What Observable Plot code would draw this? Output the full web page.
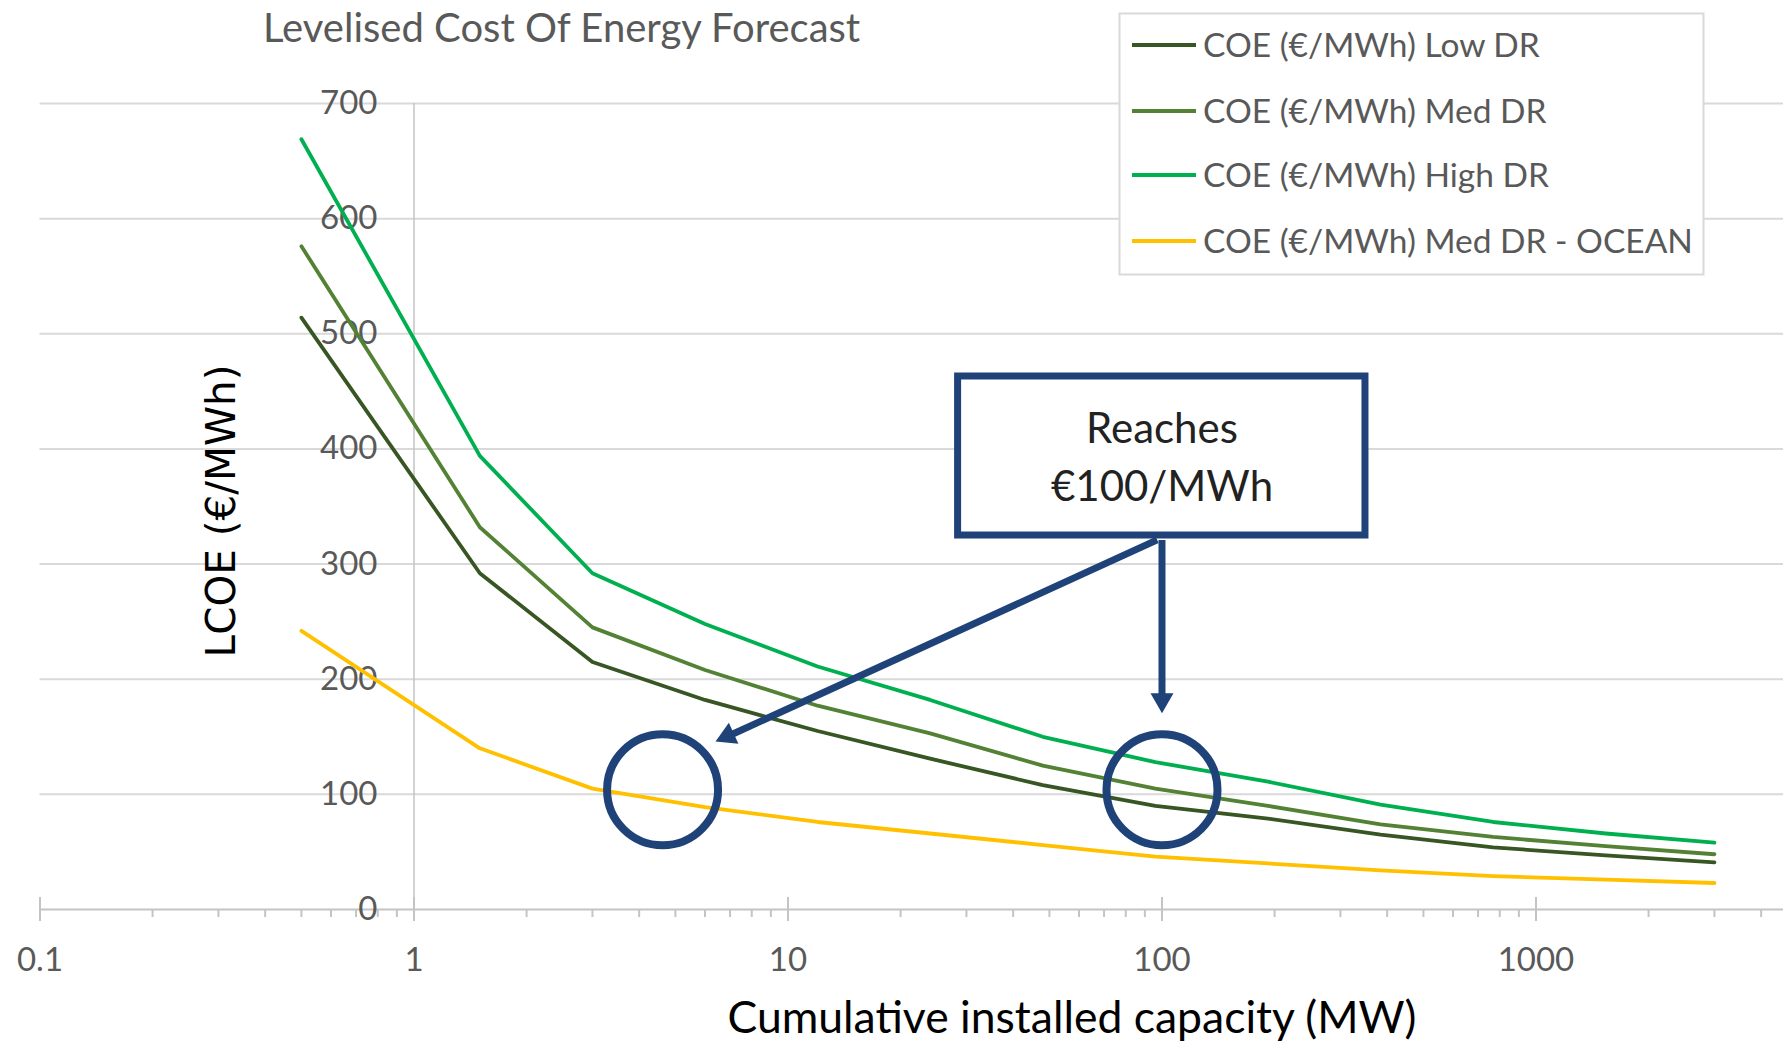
<!DOCTYPE html>
<html><head><meta charset="utf-8">
<script src="https://cdn.jsdelivr.net/npm/d3@7"></script>
<script src="https://cdn.jsdelivr.net/npm/@observablehq/plot@0.6"></script>
<style>
body{margin:0;background:#fff;overflow:hidden}
#wrap{position:relative;width:1783px;height:1041px}
#wrap > svg{position:absolute;left:0;top:0}
</style></head><body><div id="wrap"></div>
<script>
// ---- data ----
const capacity = [0.5, 1.5, 3, 6, 12, 24, 48, 96, 192, 384, 768, 1536, 3000];
const lowDR   = [514, 292, 215, 182, 155, 131, 108, 90, 79, 65, 54, 47, 41];
const medDR   = [576, 332, 245, 208, 177, 153, 125, 105, 90, 74, 63, 55, 48];
const highDR  = [669, 394, 292, 248, 211, 182, 150, 128, 111, 91, 76, 66, 58];
const oceanDR = [242, 140, 105, 89, 76, 66, 56, 46, 40, 34, 29, 26, 23];
const seriesNames = ["COE (€/MWh) Low DR", "COE (€/MWh) Med DR", "COE (€/MWh) High DR", "COE (€/MWh) Med DR - OCEAN"];
const seriesColors = ["#375623", "#548235", "#00B050", "#FFC000"];
const yTicks = [0, 100, 200, 300, 400, 500, 600, 700];
const xMajorTicks = [0.1, 1, 10, 100, 1000];
const xMinorTicks = [0.2,0.3,0.4,0.5,0.6,0.7,0.8,0.9, 2,3,4,5,6,7,8,9, 20,30,40,50,60,70,80,90, 200,300,400,500,600,700,800,900, 2000,3000,4000];
const xAxisMax = 4590;
const chartTitle = "Levelised Cost Of Energy Forecast";
const xTitle = "Cumulative installed capacity (MW)";
const yTitle = "LCOE (€/MWh)";
// ---- annotation (data units) ----
const calloutLines = ["Reaches", "€100/MWh"];
const calloutLineY = [416.6, 366.8];
const calloutX = [100, 100];
const boxX = [28.5, 350];
const boxY = [324.8, 462.9];
const circleX = [4.62, 100];
const circleY = [104, 104];
const shaftX1 = [97.1, 100];
const shaftY1 = [321, 321];
const shaftX2 = [7.0, 100];
const shaftY2 = [151.3, 185];
const headX = [6.40, 100];
const headY = [145.9, 170.5];

const seriesValues = [lowDR, medDR, highDR, oceanDR];
const rows = seriesNames.flatMap((s, k) => capacity.map((c, i) => ({capacity: c, lcoe: seriesValues[k][i], series: s})));
const annColor = "#1f4279";

const chart = Plot.plot({
  width: 1783, height: 1041,
  marginLeft: 39.5, marginRight: 0, marginTop: 103, marginBottom: 132,
  x: {type: "log", domain: [0.1, xAxisMax]},
  y: {domain: [0, 700]},
  color: {domain: seriesNames, range: seriesColors},
  style: {fontFamily: "Lato, sans-serif", background: "white", overflow: "visible"},
  marks: [
    Plot.ruleY(yTicks.filter(d => d > 0), {stroke: "#d9d9d9", strokeWidth: 2}),
    Plot.ruleY([0], {stroke: "#c4c4c4", strokeWidth: 2}),
    Plot.ruleX([1], {y1: 0, y2: 700, stroke: "#c4c4c4", strokeWidth: 1.5}),
    Plot.axisX({ticks: xMinorTicks, tickSize: 8, tickFormat: () => "", stroke: "#c4c4c4", strokeWidth: 2, label: null}),
    Plot.axisX({ticks: xMajorTicks, tickSize: 24, dy: -12, tickFormat: () => "", stroke: "#c4c4c4", strokeWidth: 2, label: null}),
    Plot.axisX({ticks: xMajorTicks, tickSize: 0, tickPadding: 38, tickFormat: d => String(d), fontSize: 33, fill: "#595959", label: null}),
    Plot.axisY({ticks: yTicks, anchor: "left", tickSize: 0, tickPadding: 0, dx: 337.5, tickFormat: d => String(d), fontSize: 33, fill: "#595959", label: null}),
    Plot.line(rows, {x: "capacity", y: "lcoe", stroke: "series", z: "series", strokeWidth: 3.8}),
    // callout arrows
    Plot.link(shaftX1, {x1: shaftX1, y1: shaftY1, x2: shaftX2, y2: shaftY2, stroke: annColor, strokeWidth: 7}),
    Plot.dot([0], {x: [headX[0]], y: [headY[0]], symbol: "triangle", r: 8.54, fill: annColor, rotate: 245.4, dx: 12.1, dy: -5.5}),
    Plot.dot([0], {x: [headX[1]], y: [headY[1]], symbol: "triangle", r: 8.54, fill: annColor, rotate: 180, dy: -13.3}),
    Plot.rect([0], {x1: [boxX[0]], x2: [boxX[1]], y1: [boxY[0]], y2: [boxY[1]], fill: "white", stroke: annColor, strokeWidth: 7}),
    Plot.text(calloutLines, {x: calloutX, y: calloutLineY, text: calloutLines, fontSize: 42, fill: "#222", textAnchor: "middle", lineAnchor: "middle"}),
    Plot.dot(circleX, {x: circleX, y: circleY, r: 55.5, stroke: annColor, strokeWidth: 8, fill: "none"})
  ]
});

const wrap = document.getElementById("wrap");
wrap.appendChild(chart);

// overlay: titles and legend
const ov = d3.select(wrap).append("svg")
  .attr("width", 1783).attr("height", 1041)
  .style("pointer-events", "none");

ov.append("text").attr("x", 263).attr("y", 41.7)
  .attr("font-family", "Lato, sans-serif").attr("font-size", 40).attr("fill", "#595959")
  .text(chartTitle);

ov.append("text").attr("x", 1072).attr("y", 1033).attr("text-anchor", "middle")
  .attr("font-family", "Lato, sans-serif").attr("font-size", 44.5).attr("fill", "#000")
  .text(xTitle);

ov.append("text").attr("transform", "translate(235,511) rotate(-90)").attr("text-anchor", "middle")
  .attr("font-family", "'DejaVu Sans', sans-serif").attr("font-size", 40.5).attr("fill", "#000")
  .text(yTitle);

const lg = ov.append("g");
lg.append("rect").attr("x", 1119.5).attr("y", 13.5).attr("width", 584).attr("height", 261)
  .attr("fill", "white").attr("stroke", "#d9d9d9").attr("stroke-width", 2);
const legendRowY = [45, 111, 175, 241];
seriesNames.forEach((s, i) => {
  lg.append("line").attr("x1", 1132).attr("x2", 1196).attr("y1", legendRowY[i]).attr("y2", legendRowY[i])
    .attr("stroke", seriesColors[i]).attr("stroke-width", 4);
  lg.append("text").attr("x", 1203).attr("y", legendRowY[i] + 12)
    .attr("font-family", "Lato, sans-serif").attr("font-size", 33.5).attr("fill", "#595959")
    .text(s);
});
</script>
</body></html>
